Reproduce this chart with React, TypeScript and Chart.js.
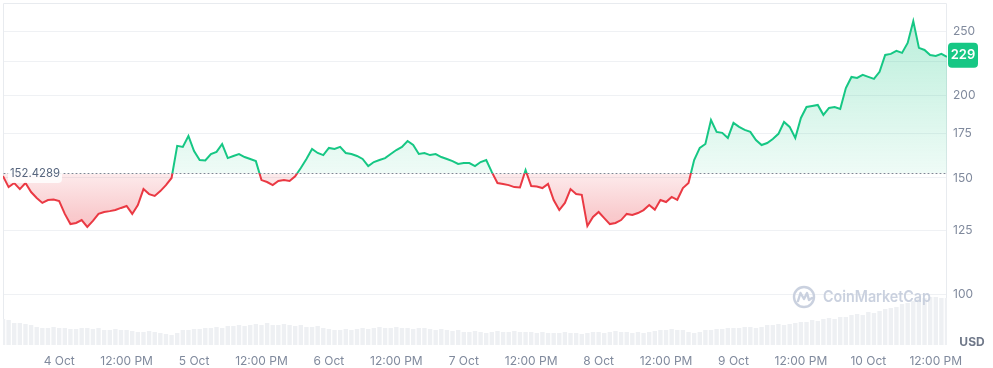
import React, { useEffect, useRef } from 'react';
import { Chart, registerables } from 'chart.js';

Chart.register(...registerables);

// ---- data ----
const BASELINE = 152.4289;
const LAST_LABEL = '229';
const CURRENCY = 'USD';
const WATERMARK = 'CoinMarketCap';

// hourly prices, 3 Oct 14:00 -> 10 Oct 14:00
const PRICES = [
  151.0, 145.3, 147.4, 144.3, 147.4, 142.8, 139.9, 137.5, 138.9, 139.1,
  138.4, 132.3, 127.7, 128.2, 129.5, 126.4, 129.1, 132.3, 133.2, 133.6,
  134.1, 135.1, 136.0, 132.3, 136.5, 144.3, 141.8, 140.9, 143.3, 146.3,
  150.0, 167.8, 167.2, 173.7, 164.8, 159.7, 159.5, 163.1, 164.3, 168.9,
  160.8, 162.0, 163.1, 161.4, 160.3, 159.1, 148.9, 147.9, 146.3, 148.4,
  148.9, 148.4, 150.9, 155.3, 160.3, 166.0, 163.7, 162.5, 166.6, 166.0,
  167.2, 163.7, 163.1, 162.0, 160.3, 156.4, 158.6, 159.7, 160.8, 163.1,
  165.4, 167.2, 170.7, 168.3, 163.1, 163.7, 162.5, 163.1, 161.4, 160.3,
  159.1, 157.5, 158.0, 158.0, 156.4, 158.6, 159.7, 153.1, 147.4, 146.9,
  146.3, 145.3, 145.1, 154.2, 145.8, 145.6, 144.8, 146.9, 138.9, 134.1,
  137.5, 144.3, 141.8, 141.4, 126.8, 130.9, 133.2, 130.4, 127.7, 128.2,
  129.5, 132.3, 131.8, 132.7, 134.1, 136.5, 134.3, 138.9, 137.9, 140.4,
  139.0, 144.8, 147.4, 159.7, 166.6, 168.9, 183.7, 176.2, 175.6, 172.5,
  181.8, 179.3, 177.4, 176.2, 171.3, 168.3, 169.5, 171.9, 175.0, 182.4,
  179.3, 172.5, 185.0, 192.2, 192.9, 193.6, 187.0, 191.6, 192.2, 190.9,
  205.4, 213.5, 212.7, 215.0, 213.5, 212.0, 217.3, 230.5, 231.4, 233.8,
  232.2, 240.4, 259.5, 236.3, 234.6, 230.5, 229.7, 231.4, 229.0,
];

// hourly volume (relative units)
const VOLUMES = [
  26, 25, 22, 22, 21, 20, 18, 17, 17, 18,
  17, 17, 16, 16, 17, 17, 16, 17, 15, 15,
  16, 15, 15, 14, 13, 13, 14, 13, 12, 11,
  10, 12, 15, 15, 16, 16, 17, 17, 18, 17,
  19, 19, 20, 19, 20, 21, 20, 22, 20, 20,
  21, 20, 19, 20, 18, 18, 19, 17, 16, 15,
  15, 16, 15, 16, 17, 16, 17, 18, 17, 17,
  18, 17, 17, 16, 17, 17, 16, 15, 16, 15,
  14, 15, 13, 13, 14, 13, 12, 13, 14, 13,
  13, 14, 13, 13, 13, 12, 13, 12, 12, 12,
  13, 12, 12, 11, 12, 13, 13, 12, 13, 14,
  13, 13, 12, 13, 12, 13, 14, 15, 15, 16,
  15, 15, 13, 12, 13, 15, 15, 16, 16, 17,
  17, 17, 18, 18, 17, 18, 20, 20, 21, 20,
  21, 22, 23, 23, 25, 24, 26, 27, 26, 28,
  28, 30, 31, 30, 33, 32, 34, 36, 37, 38,
  41, 42, 44, 48, 47, 48, 48, 47, 47,
];

const Y_TICKS = [100, 125, 150, 175, 200, 225, 250];
const Y_HIDDEN_TICK = 225;
const X_TICK_HOURS = [10, 22, 34, 46, 58, 70, 82, 94, 106, 118, 130, 142, 154, 166];
const X_TICK_LABELS = [
  '4 Oct', '12:00 PM', '5 Oct', '12:00 PM', '6 Oct', '12:00 PM', '7 Oct',
  '12:00 PM', '8 Oct', '12:00 PM', '9 Oct', '12:00 PM', '10 Oct', '12:00 PM',
];

const GREEN = '#16c784';
const RED = '#ea3943';
const TEXT = '#808a9d';
const GRID = '#eff1f4';
const FONT = 'Inter, "Noto Sans", sans-serif';

const overlayPlugin = {
  id: 'cmcOverlay',
  beforeDatasetsDraw(chart: any) {
    const { ctx, chartArea: a } = chart;
    ctx.save();
    // frame
    ctx.strokeStyle = '#e8ebef';
    ctx.lineWidth = 1;
    ctx.beginPath();
    ctx.moveTo(a.left + 0.5, a.bottom);
    ctx.lineTo(a.left + 0.5, a.top + 0.5);
    ctx.lineTo(a.right - 0.5, a.top + 0.5);
    ctx.lineTo(a.right - 0.5, a.bottom);
    ctx.stroke();
    ctx.restore();
  },
  afterDatasetsDraw(chart: any) {
    const { ctx, chartArea: a, scales } = chart;
    const by = scales.y.getPixelForValue(BASELINE);
    ctx.save();
    // watermark (over the volume bars)
    const cx = 804, cy = 297;
    ctx.strokeStyle = 'rgba(196,204,219,0.9)';
    ctx.lineWidth = 2.4;
    ctx.lineJoin = 'round';
    ctx.lineCap = 'round';
    ctx.beginPath();
    ctx.arc(cx, cy, 10, 0, Math.PI * 2);
    ctx.stroke();
    ctx.beginPath();
    ctx.moveTo(cx - 6, cy + 4);
    ctx.lineTo(cx - 3.5, cy - 4);
    ctx.lineTo(cx, cy + 2);
    ctx.lineTo(cx + 3, cy - 4);
    ctx.lineTo(cx + 5, cy + 3);
    ctx.lineTo(cx + 8, cy + 1);
    ctx.stroke();
    ctx.fillStyle = 'rgba(196,204,219,0.9)';
    ctx.font = '600 16px ' + FONT;
    ctx.textBaseline = 'middle';
    ctx.textAlign = 'left';
    ctx.fillText(WATERMARK, 823, cy, 108);
    // dotted baseline
    ctx.strokeStyle = '#7d8694';
    ctx.lineWidth = 1;
    ctx.setLineDash([1, 3]);
    ctx.beginPath();
    ctx.moveTo(a.left + 1, Math.round(by) + 0.5);
    ctx.lineTo(a.right, Math.round(by) + 0.5);
    ctx.stroke();
    ctx.setLineDash([]);
    // baseline label
    ctx.fillStyle = 'rgba(255,255,255,0.85)';
    ctx.beginPath();
    (ctx as any).roundRect(8, by - 9.5, 54, 19, 4);
    ctx.fill();
    ctx.fillStyle = '#58667e';
    ctx.font = '12px ' + FONT;
    ctx.textBaseline = 'middle';
    ctx.textAlign = 'left';
    ctx.fillText(BASELINE.toFixed(4), 10, by, 50);
    // last price badge
    const ly = scales.y.getPixelForValue(PRICES[PRICES.length - 1]);
    ctx.fillStyle = GREEN;
    ctx.beginPath();
    (ctx as any).roundRect(a.right + 1, ly - 14, 30, 25, 4);
    ctx.fill();
    ctx.fillStyle = '#ffffff';
    ctx.font = '600 13px ' + FONT;
    ctx.textAlign = 'center';
    ctx.fillText(LAST_LABEL, a.right + 16, ly - 1.5);
    // currency
    ctx.fillStyle = '#6f7889';
    ctx.font = '700 12px ' + FONT;
    ctx.textAlign = 'center';
    ctx.fillText(CURRENCY, a.right + 25, a.bottom - 3);
    ctx.restore();
  },
};

export default function App() {
  const canvasRef = useRef<HTMLCanvasElement | null>(null);

  useEffect(() => {
    if (!canvasRef.current) return;
    Chart.defaults.font.family = FONT;
    const chart = new Chart(canvasRef.current, {
      type: 'line',
      data: {
        datasets: [
          {
            type: 'line',
            data: PRICES.map((p, i) => ({ x: i, y: p })),
            borderColor: GREEN,
            borderWidth: 2,
            pointRadius: 0,
            tension: 0,
            fill: { value: BASELINE, above: 'rgba(22,199,132,0.15)', below: 'rgba(234,57,67,0.15)' },
            yAxisID: 'y',
            order: 1,
          } as any,
          {
            type: 'bar',
            data: VOLUMES.map((v, i) => ({ x: i, y: v })),
            backgroundColor: '#eef0f3',
            barPercentage: 1,
            categoryPercentage: 0.78,
            yAxisID: 'yv',
            order: 2,
          } as any,
        ],
      },
      options: {
        animation: false,
        responsive: true,
        maintainAspectRatio: false,
        layout: { padding: { left: 3, top: 3, right: 0, bottom: 0 } },
        plugins: { legend: { display: false }, tooltip: { enabled: false } },
        scales: {
          x: {
            type: 'linear',
            min: 0,
            max: PRICES.length - 1,
            offset: false,
            grid: { display: false, drawTicks: false, offset: false },
            border: { display: false },
            afterBuildTicks: (s: any) => {
              s.ticks = X_TICK_HOURS.map((v) => ({ value: v }));
            },
            afterFit: (s: any) => {
              s.height = 23;
              s.paddingLeft = 0;
              s.paddingRight = 0;
            },
            ticks: {
              autoSkip: false,
              maxRotation: 0,
              padding: 9,
              color: TEXT,
              font: { size: 12, family: FONT },
              callback: (v: any) => {
                const i = X_TICK_HOURS.indexOf(Number(v));
                return i >= 0 ? X_TICK_LABELS[i] : '';
              },
            },
          },
          y: {
            type: 'logarithmic',
            position: 'right',
            min: 83.7,
            max: 276.4,
            grid: { color: GRID, drawTicks: false },
            border: { display: false },
            afterBuildTicks: (s: any) => {
              s.ticks = Y_TICKS.map((v) => ({ value: v }));
            },
            afterFit: (s: any) => {
              s.width = 46;
              s.paddingTop = 0;
              s.paddingBottom = 0;
            },
            ticks: {
              padding: 6,
              color: TEXT,
              font: { size: 12, family: FONT },
              callback: (v: any) => (Number(v) === Y_HIDDEN_TICK ? '' : String(v)),
            },
          },
          yv: {
            type: 'linear',
            display: false,
            min: 0,
            max: 342,
          },
        },
      } as any,
      plugins: [overlayPlugin],
    });

    // gradients based on the laid out chart
    const a = chart.chartArea;
    const ys: any = chart.scales.y;
    const by = ys.getPixelForValue(BASELINE);
    const ctx = chart.ctx;
    const f = Math.min(1, Math.max(0, (by - a.top) / (a.bottom - a.top)));
    const lineGrad = ctx.createLinearGradient(0, a.top, 0, a.bottom);
    lineGrad.addColorStop(0, GREEN);
    lineGrad.addColorStop(f, GREEN);
    lineGrad.addColorStop(f, RED);
    lineGrad.addColorStop(1, RED);
    const aboveGrad = ctx.createLinearGradient(0, a.top, 0, by);
    aboveGrad.addColorStop(0, 'rgba(22,199,132,0.32)');
    aboveGrad.addColorStop(1, 'rgba(22,199,132,0.07)');
    const belowGrad = ctx.createLinearGradient(0, by, 0, ys.getPixelForValue(125));
    belowGrad.addColorStop(0, 'rgba(234,57,67,0.10)');
    belowGrad.addColorStop(1, 'rgba(234,57,67,0.32)');
    const ds: any = chart.data.datasets[0];
    ds.borderColor = lineGrad;
    ds.fill = { value: BASELINE, above: aboveGrad, below: belowGrad };
    chart.update('none');

    return () => chart.destroy();
  }, []);

  return (
    <div style={{ position: 'absolute', left: 0, top: 0, width: 993, height: 368, background: '#fff' }}>
      <canvas ref={canvasRef} />
    </div>
  );
}
